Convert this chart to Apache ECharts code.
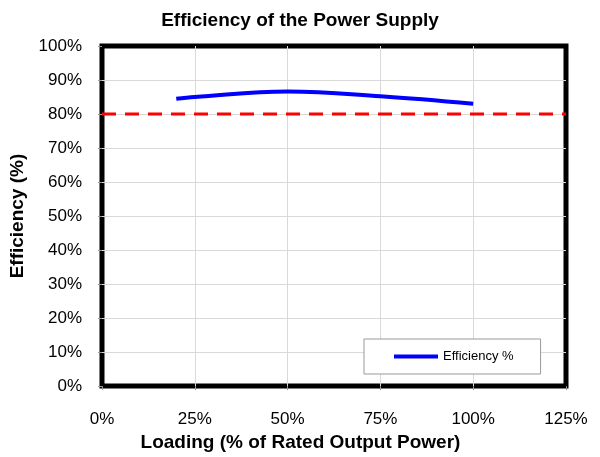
<!DOCTYPE html>
<html>
<head>
<meta charset="utf-8">
<script src="https://cdn.jsdelivr.net/npm/echarts@6/dist/echarts.min.js"></script>
<style>html,body{margin:0;padding:0;background:#fff}#c{width:600px;height:457px}</style>
</head>
<body>
<div id="c"></div>
<script>
// Data
var loadingPct = [20, 25, 50, 75, 100];
var efficiencyPct = [84.5, 85.0, 86.6, 85.2, 83.0];
var thresholdX = [0, 125];
var thresholdY = [80, 80];
var seriesName = 'Efficiency %';

var FONT = '"Liberation Sans", Arial, sans-serif';
var chart = echarts.init(document.getElementById('c'), null, {renderer: 'canvas'});

function pairs(xs, ys) { return xs.map(function (x, i) { return [x, ys[i]]; }); }

chart.setOption({
  animation: false,
  backgroundColor: '#ffffff',
  title: {
    text: 'Efficiency of the Power Supply',
    left: 'center',
    top: 6,
    textStyle: {fontFamily: FONT, fontWeight: 'bold', fontSize: 19, color: '#000'}
  },
  grid: {
    left: 99, top: 46, right: 34, bottom: 69,
    show: true, borderColor: '#000', borderWidth: 5, backgroundColor: 'transparent'
  },
  legend: {
    data: [{name: seriesName, icon: 'rect'}],
    left: 364, top: 339,
    padding: [11, 27, 11, 30],
    itemWidth: 44, itemHeight: 4,
    borderColor: '#999', borderWidth: 1, backgroundColor: '#fff',
    textStyle: {fontFamily: FONT, fontSize: 13, color: '#000'}
  },
  xAxis: {
    type: 'value', min: 0, max: 125, interval: 25,
    name: 'Loading (% of Rated Output Power)',
    nameLocation: 'middle', nameGap: 44,
    nameTextStyle: {fontFamily: FONT, fontWeight: 'bold', fontSize: 19, color: '#000', padding: [0, 67, 0, 0]},
    axisLine: {show: false},
    axisTick: {show: true, length: 4, lineStyle: {color: '#999'}},
    splitLine: {show: true, showMinLine: false, showMaxLine: false, lineStyle: {color: '#d9d9d9', width: 1}},
    axisLabel: {formatter: '{value}%', margin: 25, fontFamily: FONT, fontSize: 17, color: '#000'}
  },
  yAxis: {
    type: 'value', min: 0, max: 100, interval: 10,
    name: 'Efficiency (%)',
    nameLocation: 'middle', nameGap: 75, nameRotate: 90,
    nameTextStyle: {fontFamily: FONT, fontWeight: 'bold', fontSize: 19, color: '#000'},
    axisLine: {show: false},
    axisTick: {show: true, length: 4, lineStyle: {color: '#999'}},
    splitLine: {show: true, showMinLine: false, showMaxLine: false, lineStyle: {color: '#d9d9d9', width: 1}},
    axisLabel: {formatter: '{value}%', margin: 20, fontFamily: FONT, fontSize: 17, color: '#000'}
  },
  series: [
    {
      name: seriesName,
      type: 'line',
      smooth: 0.4,
      showSymbol: false,
      data: pairs(loadingPct, efficiencyPct),
      lineStyle: {color: '#0000ff', width: 4},
      itemStyle: {color: '#0000ff'},
      z: 3
    },
    {
      name: 'Threshold',
      type: 'line',
      showSymbol: false,
      data: pairs(thresholdX, thresholdY),
      lineStyle: {color: '#ff0000', width: 3, type: [14, 9]},
      itemStyle: {color: '#ff0000'},
      z: 2
    }
  ]
});
</script>
</body>
</html>
